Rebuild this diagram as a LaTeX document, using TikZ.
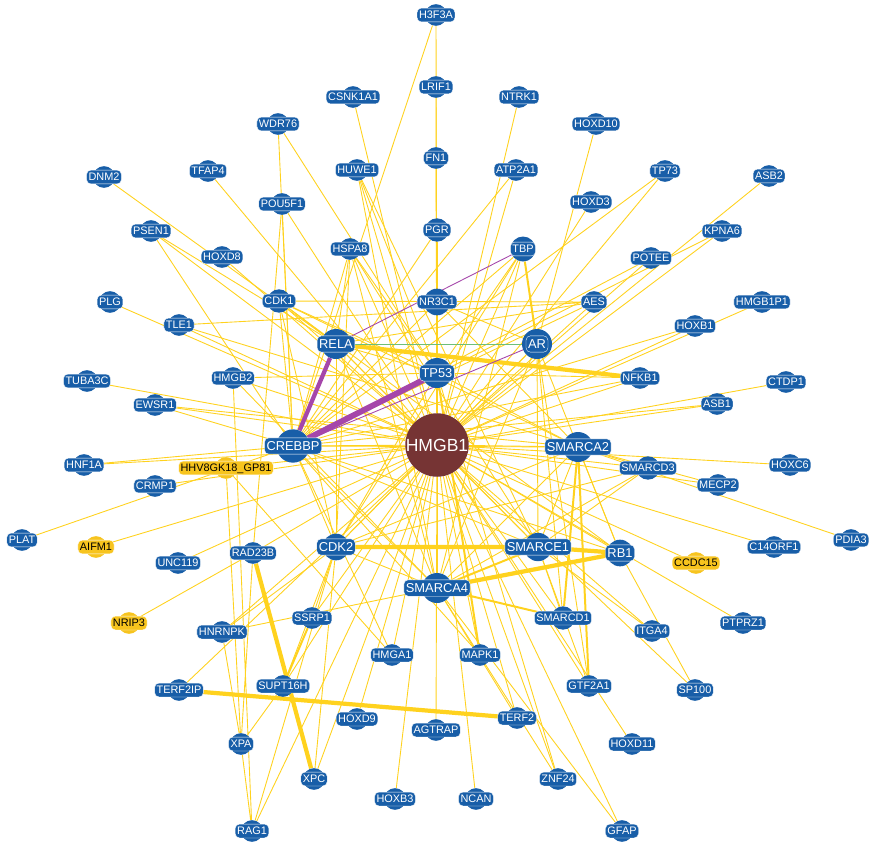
\documentclass[tikz,border=0pt]{standalone}
\usepackage{fontspec}
\setmainfont{Liberation Sans}
\usetikzlibrary{backgrounds}

\definecolor{geneblue}{RGB}{24,94,168}
\definecolor{genegold}{RGB}{247,196,30}
\definecolor{corered}{RGB}{118,52,52}
\definecolor{linkgold}{RGB}{255,210,30}
\definecolor{linkpurple}{RGB}{165,70,170}
\definecolor{linkgreen}{RGB}{110,190,120}

\begin{document}
\begin{tikzpicture}[x=0.3mm,y=-0.3mm]
    \tikzset{tag/.style= {fill=geneblue, text=white
    , draw=white, line width=0.3pt
    , rounded corners=1.3mm
    , inner xsep=0.6mm, inner ysep=0.9mm
    , text height=2.35mm, text depth=0pt
    , font=\fontsize{9.3}{10}\selectfont
      },
    hubtag/.style={tag, inner ysep=1.05mm, text height=2.8mm
    , font=\fontsize{11}{12}\selectfont},
    gene/.style={circle, fill=geneblue, minimum size=6.5mm, inner sep=0pt
    , label={[tag]center:#1}},
    ygene/.style={circle, fill=genegold, minimum size=6.5mm, inner sep=0pt
    , label={[tag, fill=genegold, text=black]center:#1}},
    hub/.style={circle, fill=geneblue, minimum size=9mm, inner sep=0pt
    , label={[hubtag]center:#1}},
    core/.style={circle, fill=corered, minimum size=18mm, inner sep=0pt
    , text=white, font=\fontsize{15}{16}\selectfont},
    link/.style={linkgold, line width=0.75pt},
    midlink/.style={linkgold, line width=1.7pt},
    boldlink/.style={linkgold, line width=3.6pt}
    }

\useasboundingbox (0,0) rectangle (870,844);

% outer ring, top
\node [gene=H3F3A] (H3F3A) at (436,15) {};
\node [gene=LRIF1] (LRIF1) at (436,87) {};
\node [gene=CSNK1A1] (CSNK1A1) at (353,97) {};
\node [gene=NTRK1] (NTRK1) at (519,97) {};
\node [gene=WDR76] (WDR76) at (278,124) {};
\node [gene=HOXD10] (HOXD10) at (596,124) {};
\node [gene=FN1] (FN1) at (436,158) {};
\node [gene=HUWE1] (HUWE1) at (357,170) {};
\node [gene=ATP2A1] (ATP2A1) at (516,170) {};
\node [gene=DNM2] (DNM2) at (104,177) {};
\node [gene=TFAP4] (TFAP4) at (208,171) {};
\node [gene=TP73] (TP73) at (665,171) {};
\node [gene=ASB2] (ASB2) at (769,176) {};
\node [gene=POU5F1] (POU5F1) at (282,204) {};
\node [gene=HOXD3] (HOXD3) at (591,202) {};
\node [gene=PSEN1] (PSEN1) at (151,231) {};
\node [gene=PGR, minimum size=7mm] (PGR) at (437,230) {};
\node [gene=KPNA6] (KPNA6) at (722,231) {};
\node [gene=TBP, minimum size=7.5mm] (TBP) at (523,249) {};
\node [gene=HSPA8] (HSPA8) at (350,249) {};
\node [gene=HOXD8] (HOXD8) at (222,257) {};
\node [gene=POTEE] (POTEE) at (651,258) {};
\node [gene=PLG] (PLG) at (110,302) {};
\node [gene=CDK1, minimum size=7mm] (CDK1) at (279,301) {};
\node [gene=NR3C1, minimum size=8mm] (NR3C1) at (437,302) {};
\node [gene=AES] (AES) at (594,302) {};
\node [gene=HMGB1P1] (HMGB1P1) at (762,302) {};
\node [gene=TLE1] (TLE1) at (179,325) {};
\node [gene=HOXB1] (HOXB1) at (695,326) {};

% middle band
\node [hub=RELA] (RELA) at (336,344) {};
\node [hub=AR] (AR) at (537,344) {};
\node [hub=TP53] (TP53) at (437,373) {};
\node [gene=NFKB1] (NFKB1) at (640,378) {};
\node [gene=TUBA3C] (TUBA3C) at (87,381) {};
\node [gene=HMGB2] (HMGB2) at (233,378) {};
\node [gene=CTDP1] (CTDP1) at (786,382) {};
\node [gene=EWSR1] (EWSR1) at (155,405) {};
\node [gene=ASB1] (ASB1) at (717,404) {};
\node [hub=CREBBP, minimum size=10mm] (CREBBP) at (293,446) {};
\node [core] (HMGB1) at (437,445) {HMGB1};
\node [hub=SMARCA2] (SMARCA2) at (578,447) {};
\node [gene=HNF1A] (HNF1A) at (84,465) {};
\node [ygene=HHV8GK18\_GP81] (GP81) at (226,468) {};
\node [gene=SMARCD3, minimum size=7mm] (SMARCD3) at (648,468) {};
\node [gene=HOXC6] (HOXC6) at (790,465) {};
\node [gene=CRMP1] (CRMP1) at (155,486) {};
\node [gene=MECP2] (MECP2) at (718,485) {};
\node [gene=PLAT] (PLAT) at (22,540) {};
\node [ygene=AIFM1] (AIFM1) at (96,547) {};
\node [gene=RAD23B] (RAD23B) at (253,553) {};
\node [hub=CDK2, minimum size=8mm] (CDK2) at (336,547) {};
\node [hub=SMARCE1, minimum size=8.5mm] (SMARCE1) at (538,547) {};
\node [hub=RB1, minimum size=8mm] (RB1) at (620,553) {};
\node [gene=C14ORF1] (C14ORF1) at (774,547) {};
\node [gene=PDIA3] (PDIA3) at (851,540) {};
\node [gene=UNC119] (UNC119) at (178,563) {};
\node [ygene=CCDC15] (CCDC15) at (696,563) {};
\node [hub=SMARCA4] (SMARCA4) at (437,588) {};

% outer ring, bottom
\node [ygene=NRIP3] (NRIP3) at (129,623) {};
\node [gene=HNRNPK] (HNRNPK) at (222,632) {};
\node [gene=SSRP1] (SSRP1) at (312,618) {};
\node [gene=SMARCD1, minimum size=7mm] (SMARCD1) at (563,618) {};
\node [gene=ITGA4] (ITGA4) at (652,631) {};
\node [gene=PTPRZ1] (PTPRZ1) at (743,623) {};
\node [gene=HMGA1] (HMGA1) at (392,655) {};
\node [gene=MAPK1] (MAPK1) at (480,655) {};
\node [gene=SUPT16H] (SUPT16H) at (283,686) {};
\node [gene=GTF2A1] (GTF2A1) at (589,686) {};
\node [gene=SP100] (SP100) at (695,690) {};
\node [gene=TERF2IP] (TERF2IP) at (179,690) {};
\node [gene=HOXD9] (HOXD9) at (357,719) {};
\node [gene=TERF2] (TERF2) at (517,718) {};
\node [gene=AGTRAP] (AGTRAP) at (436,730) {};
\node [gene=HOXD11] (HOXD11) at (632,744) {};
\node [gene=XPA] (XPA) at (241,744) {};
\node [gene=XPC] (XPC) at (314,779) {};
\node [gene=ZNF24] (ZNF24) at (558,779) {};
\node [gene=HOXB3] (HOXB3) at (395,799) {};
\node [gene=NCAN] (NCAN) at (476,799) {};
\node [gene=RAG1] (RAG1) at (252,831) {};
\node [gene=GFAP] (GFAP) at (622,831) {};

\begin{pgfonlayer}{background}
\fill[white] (0,0) rectangle (870,844);

% star round HMGB1
\foreach \g in {H3F3A,LRIF1,FN1,PGR,NR3C1,CSNK1A1,NTRK1,HUWE1,ATP2A1,
    TFAP4,TP73,ASB2,POU5F1,HOXD3,PSEN1,TBP,HSPA8,HOXD8,KPNA6,POTEE,PLG,
    CDK1,AES,HMGB1P1,TLE1,HOXB1,RELA,AR,NFKB1,TUBA3C,HMGB2,EWSR1,CTDP1,
    ASB1,CREBBP,SMARCA2,HNF1A,GP81,SMARCD3,HOXC6,CRMP1,MECP2,AIFM1,RAD23B,
    CDK2,SMARCE1,RB1,C14ORF1,UNC119,CCDC15,SMARCA4,HNRNPK,SSRP1,SMARCD1,
    ITGA4,PTPRZ1,HMGA1,MAPK1,SUPT16H,GTF2A1,SP100,TERF2IP,HOXD9,TERF2,
    AGTRAP,HOXD11,XPC,ZNF24,HOXB3,NCAN,RAG1,GFAP}
  \draw[link] (HMGB1) -- (\g);

\foreach \g in {WDR76,POU5F1,PSEN1,H3F3A,ATP2A1,TP73,PGR,HSPA8,TBP,CDK1,
    EWSR1,HNF1A,PLAT,AES,HOXB1,NFKB1,ASB1,NR3C1,SMARCA2,HMGA1,SMARCA4,
    SMARCE1,RB1,CDK2,MAPK1,KPNA6,POTEE}
  \draw[link] (CREBBP) -- (\g);

\foreach \g in {WDR76,HUWE1,HSPA8,CDK1,TBP,RELA,SMARCA4,ZNF24,CDK2,
    SMARCA2,NFKB1,HMGB2}
  \draw[link] (TP53) -- (\g);

\foreach \g in {DNM2,PSEN1,CDK1,AES,HSPA8,SMARCA4,SMARCE1,CDK2}
  \draw[link] (RELA) -- (\g);

\foreach \g in {HOXD10,SMARCA4,SMARCD1,GTF2A1,CDK2,SMARCE1,NR3C1,RB1}
  \draw[link] (AR) -- (\g);

\foreach \g in {RB1,SMARCA4,SMARCE1,CDK2,SMARCD3,MECP2,PDIA3,TLE1,
    EWSR1,NR3C1,CDK1}
  \draw[link] (SMARCA2) -- (\g);

\foreach \g in {SMARCD1,SMARCD3,GTF2A1,HUWE1,HSPA8,ITGA4}
  \draw[link] (SMARCE1) -- (\g);

\foreach \g in {SMARCD3,HSPA8,HMGB2,GFAP,ZNF24,TERF2,CDK2,HNRNPK,HUWE1,TBP}
  \draw[link] (SMARCA4) -- (\g);

\foreach \g in {CDK1,TBP,HSPA8,HNRNPK,SUPT16H,XPC,SSRP1,SMARCD3,RAG1}
  \draw[link] (CDK2) -- (\g);

\path[draw, link]
  (RB1) -- (CDK1)  (RB1) -- (SP100)
  (POU5F1) -- (RAD23B)  (NRIP3) -- (RAD23B)
  (HNRNPK) -- (XPA)  (XPA) -- (RAD23B)  (XPA) -- (SUPT16H)
  (XPA) -- (RAG1)  (HMGB2) -- (RAG1)  (GP81) -- (HMGA1)
  (GP81) -- (XPA)  (TLE1) -- (AES)  (CDK1) -- (AES);

% heavier ties
\path[draw, midlink]
  (TBP) -- (AR)  (SMARCA2) -- (SMARCD1)  (SMARCA2) -- (GTF2A1)
  (SMARCA4) -- (SMARCD1)  (SUPT16H) -- (SSRP1)  (TP53) -- (HMGB1)
  (TP53) -- (MAPK1)  (SMARCA4) -- (SMARCE1);
\path[draw, boldlink]
  (RELA) -- (NFKB1)  (CDK2) -- (SMARCE1)  (SMARCE1) -- (RB1)
  (SMARCA4) -- (RB1)  (RAD23B) -- (XPC)  (TERF2IP) -- (TERF2);

\draw[linkgreen, line width=0.75pt] (RELA) -- (AR);
\draw[linkpurple, line width=0.75pt] (TBP) -- (RELA);
\draw[linkpurple, line width=0.75pt] (AR) -- (CREBBP);
\draw[linkpurple, line width=3.6pt] (RELA) -- (CREBBP);
\draw[linkpurple, line width=5pt] (TP53) -- (CREBBP);
\end{pgfonlayer}
\end{tikzpicture}
\end{document}
